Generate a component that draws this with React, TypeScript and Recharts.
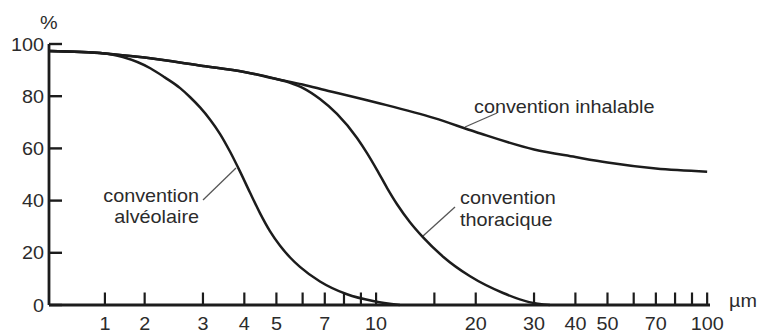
import React from 'react';
import { LineChart, Line, XAxis, YAxis } from 'recharts';

// particle diameter ticks (µm) and their labels
const TICK_UM = [1, 2, 3, 4, 5, 6, 7, 8, 9, 10, 15, 20, 30, 40, 50, 60, 70, 80, 90, 100];
const TICK_LABELS = ['1', '2', '3', '4', '5', '', '7', '', '', '10', '', '20', '30', '40', '50', '', '70', '', '', '100'];
const Y_TICKS = [0, 20, 40, 60, 80, 100];

// convention inhalable
const INHAL_UM = [0, 1, 2, 3, 4, 5, 6, 7, 10, 15, 20, 30, 40, 50, 70, 100];
const INHAL_PCT = [97.3, 96.4, 94.8, 91.6, 89.3, 86.6, 84.5, 82.4, 77.6, 71.6, 66.3, 59.6, 56.7, 54.6, 52.3, 51.1];

// convention thoracique
const THOR_UM = [0, 1, 2, 3, 4, 5, 5.5, 6.02, 6.77, 7.62, 8.76, 9.39, 10.07, 10.8, 11.57, 12.66, 13.87, 15.94, 19.23, 24.19, 29.0, 33.5];
const THOR_PCT = [97.3, 96.4, 94.8, 91.6, 89.3, 86.6, 85.1, 83.1, 78.9, 73.2, 64.0, 58.2, 51.7, 44.8, 38.6, 31.7, 25.9, 18.5, 11.0, 4.6, 1.1, 0];

// convention alvéolaire
const ALV_UM = [0, 1, 1.45, 2.08, 2.3, 2.56, 2.74, 2.94, 3.15, 3.38, 3.62, 3.88, 4.16, 4.46, 4.78, 5.13, 5.5, 5.89, 6.77, 8.17, 9.79, 11.8];
const ALV_PCT = [97.3, 96.4, 95.0, 90.7, 87.2, 83.1, 79.7, 75.7, 71.1, 65.5, 58.8, 51.2, 43.1, 35.2, 28.3, 22.7, 18.2, 14.6, 9.0, 4.1, 1.5, 0];

const X_END_UM = 102;

// axis position of a diameter: logarithmic from 2 µm, compressed below as on the original figure
const LOG2 = Math.log10(2);
const POS_ZERO = 0.0121;
const POS_ONE = 0.181;
function pos(um: number): number {
  if (um >= 2) return Math.log10(um);
  if (um >= 1) return POS_ONE + (LOG2 - POS_ONE) * (um - 1);
  return POS_ZERO + (POS_ONE - POS_ZERO) * um;
}

const toSeries = (xs: number[], ys: number[]) => xs.map((u, i) => ({ x: pos(u), y: ys[i] }));
const inhalData = toSeries(INHAL_UM, INHAL_PCT);
const thorData = toSeries(THOR_UM, THOR_PCT);
const alvData = toSeries(ALV_UM, ALV_PCT);
const TICK_POS = TICK_UM.map(pos);

const FONT = '"Liberation Sans", Arial, Helvetica, sans-serif';
const INK = '#1c1c1c';
const TXT = '#2b2b2b';

const T = ({ x, y, anchor = 'start', children }: any) => (
  <g transform={`translate(${x},${y}) scale(1.1,1)`}>
    <text x={0} y={0} textAnchor={anchor} fontSize={18} fontFamily={FONT} fill={TXT}>
      {children}
    </text>
  </g>
);

const XTick = (props: any) => {
  const { x, y, payload } = props;
  let idx = 0;
  let best = Infinity;
  TICK_POS.forEach((p, i) => {
    const d = Math.abs(p - payload.value);
    if (d < best) {
      best = d;
      idx = i;
    }
  });
  const label = TICK_LABELS[idx];
  return (
    <g>
      <line x1={x} x2={x} y1={y} y2={y - 12.5} stroke={INK} strokeWidth={2.2} />
      {label ? <T x={x} y={y + 24.5} anchor="middle">{label}</T> : null}
    </g>
  );
};

const YTick = (props: any) => {
  const { x, y, payload } = props;
  return (
    <g>
      <line x1={x} x2={x + 13} y1={y} y2={y} stroke={INK} strokeWidth={2.4} />
      <T x={x - 5} y={y + 6.5} anchor="end">{payload.value}</T>
    </g>
  );
};

export default function App() {
  return (
    <div style={{ position: 'absolute', left: 0, top: 0, width: 761, height: 332, background: '#fff' }}>
      <LineChart width={761} height={332} margin={{ top: 44, right: 51, bottom: 0, left: 0 }}>
        <XAxis
          type="number"
          dataKey="x"
          domain={[pos(0), pos(X_END_UM)]}
          ticks={TICK_POS}
          interval={0}
          height={27}
          tickSize={0}
          tickMargin={0}
          tickLine={false}
          tick={<XTick />}
          axisLine={{ stroke: INK, strokeWidth: 2.8 }}
          allowDataOverflow
        />
        <YAxis
          type="number"
          domain={[0, 100]}
          ticks={Y_TICKS}
          interval={0}
          width={49}
          tickSize={0}
          tickMargin={0}
          tickLine={false}
          tick={<YTick />}
          axisLine={{ stroke: INK, strokeWidth: 2.8 }}
        />
        <Line data={inhalData} dataKey="y" type="monotone" stroke={INK} strokeWidth={2.5} dot={false} activeDot={false} isAnimationActive={false} />
        <Line data={thorData} dataKey="y" type="monotone" stroke={INK} strokeWidth={2.5} dot={false} activeDot={false} isAnimationActive={false} />
        <Line data={alvData} dataKey="y" type="monotone" stroke={INK} strokeWidth={2.5} dot={false} activeDot={false} isAnimationActive={false} />

        <T x={40} y={29}>%</T>
        <T x={729} y={307}>µm</T>

        <line x1={465} y1={127} x2={497} y2={113} stroke="#555" strokeWidth={1.3} />
        <T x={474} y={113}>convention inhalable</T>

        <line x1={423} y1={236} x2={455} y2={207} stroke="#555" strokeWidth={1.3} />
        <T x={460} y={204}>convention</T>
        <T x={460} y={226}>thoracique</T>

        <line x1={203} y1={200} x2={236} y2={168} stroke="#555" strokeWidth={1.3} />
        <T x={199} y={201.5} anchor="end">convention</T>
        <T x={199} y={223} anchor="end">alvéolaire</T>
      </LineChart>
    </div>
  );
}
